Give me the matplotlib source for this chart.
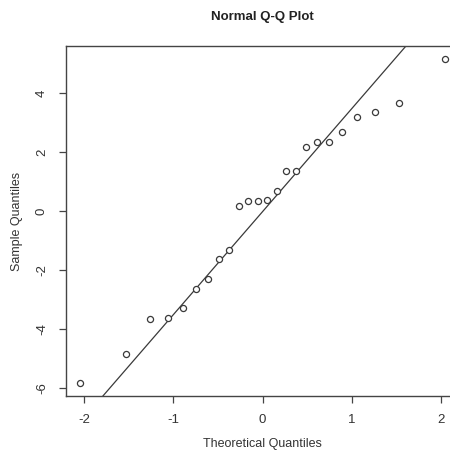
import numpy as np
import matplotlib
matplotlib.use("Agg")
import matplotlib.pyplot as plt

plt.rcParams['font.family'] = ['Liberation Sans', 'DejaVu Sans']

# Theoretical quantiles (x) and sample quantiles (y)
theoretical = [-2.04, -1.53, -1.26, -1.06, -0.89, -0.74, -0.61, -0.49, -0.37, -0.26, -0.16, -0.05,
               0.05, 0.16, 0.26, 0.37, 0.49, 0.61, 0.74, 0.89, 1.06, 1.26, 1.53, 2.04]
sample = [-5.83, -4.84, -3.65, -3.63, -3.28, -2.63, -2.30, -1.64, -1.33, 0.18, 0.34, 0.35,
          0.36, 0.67, 1.36, 1.36, 2.16, 2.33, 2.34, 2.66, 3.17, 3.34, 3.66, 5.16]
x_ticks = [-2, -1, 0, 1, 2]
y_ticks = [-6, -4, -2, 0, 2, 4]
y_tick_labels = ['-6', '-4', '-2', '0', '2', '4']

title = "Normal Q-Q Plot"
xlabel = "Theoretical Quantiles"
ylabel = "Sample Quantiles"

# qqline through the quartiles
q1, q3 = np.percentile(sample, [25, 75])
z = 0.67449
slope = (q3 - q1) / (2 * z)
intercept = q1 + slope * z

fig = plt.figure(figsize=(4.5, 4.53), dpi=100)
ax = fig.add_axes([66 / 450, 57 / 453, 393 / 450, 350.3 / 453])
ink = '#3a3a3a'

ax.plot(theoretical, sample, linestyle='none', marker='o', markersize=4.4,
        markerfacecolor='white', markeredgecolor=ink, markeredgewidth=0.9, zorder=3)
ax.axline((0, intercept), slope=slope, color=ink, linewidth=0.9, zorder=2)

ax.set_xlim(-2.2, 2.2)
ax.set_ylim(-6.27, 5.60)
ax.set_xticks(x_ticks)
ax.set_xticklabels([str(t) for t in x_ticks])
ax.set_yticks(y_ticks)
ax.set_yticklabels(y_tick_labels, rotation=90, va='center')

for s in ax.spines.values():
    s.set_color('#444444')
    s.set_linewidth(1.0)
ax.tick_params(axis='both', direction='out', length=5, width=0.9, color='#444444',
               labelsize=9.5, labelcolor='#333333')
ax.tick_params(axis='x', pad=8)
ax.tick_params(axis='y', pad=8)

fig.text(262.5 / 450, 1 - 444 / 453, xlabel, ha='center', va='center',
         fontsize=9, color='#333333')
fig.text(17 / 450, 1 - 221 / 453, ylabel, ha='center', va='center', rotation=90,
         fontsize=9, color='#333333')
fig.text(262.5 / 450, 1 - 17 / 453, title, ha='center', va='center',
         fontsize=9.5, fontweight='bold', color='#222222')

fig.savefig("out.png", dpi=100)
